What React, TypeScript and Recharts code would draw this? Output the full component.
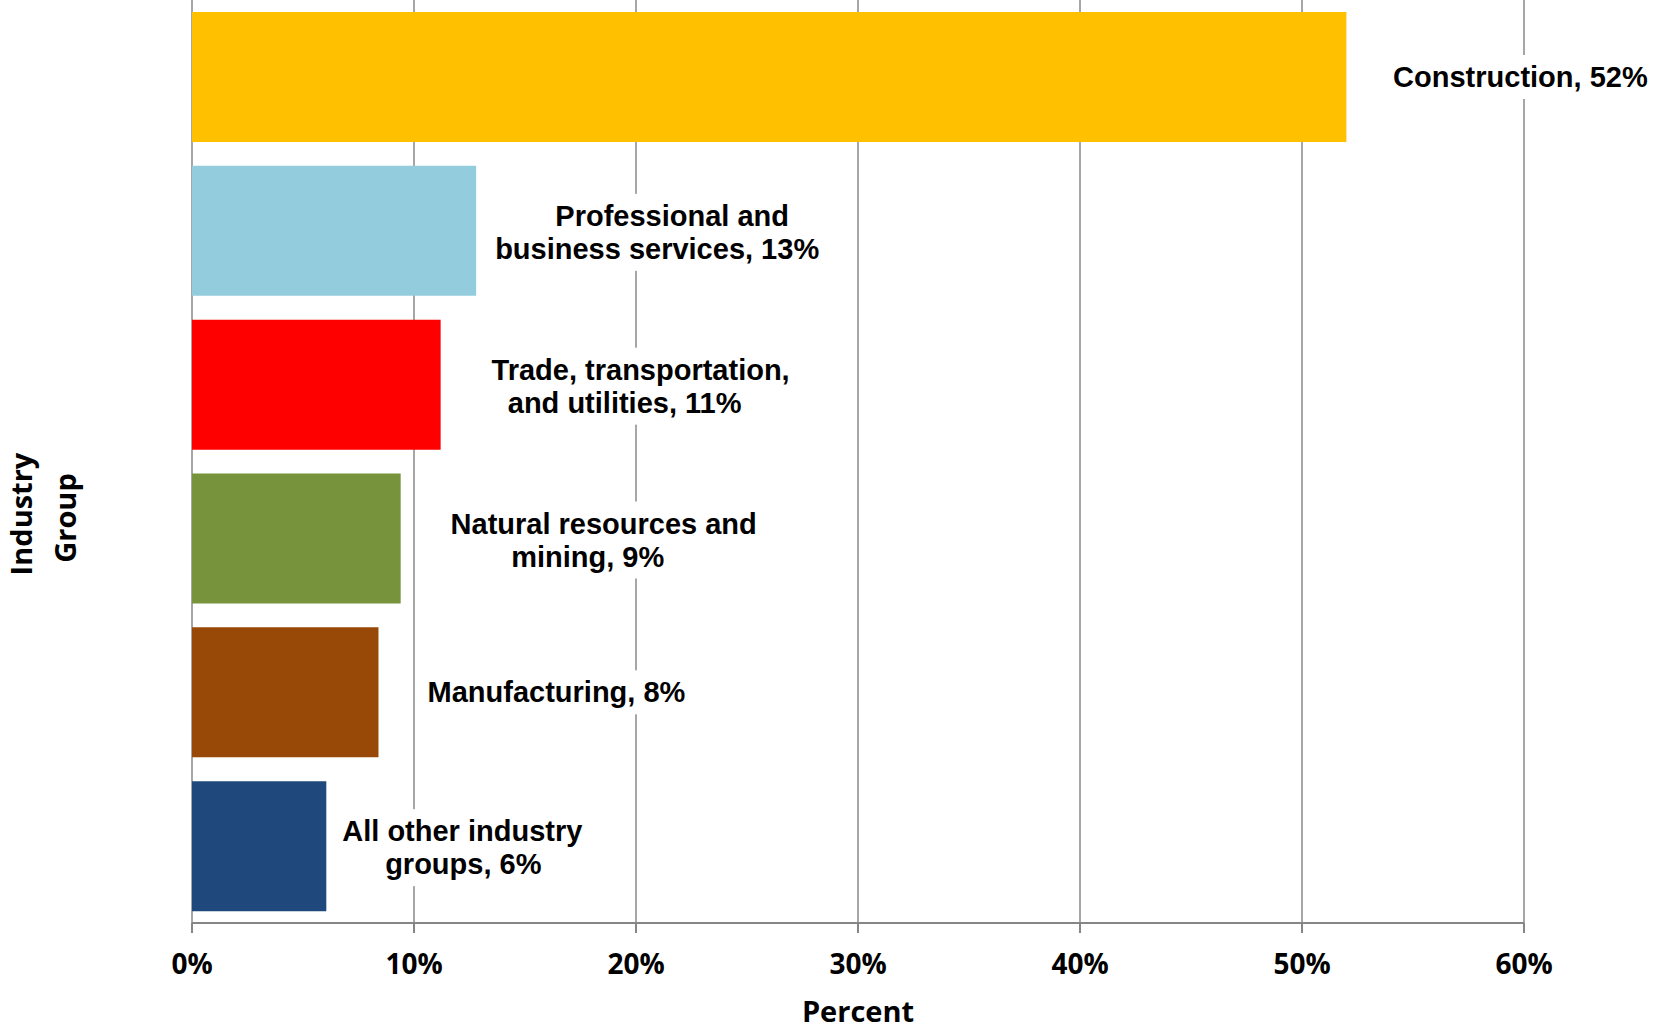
import React from 'react';
import { BarChart, Bar, XAxis, YAxis, CartesianGrid, Cell, LabelList } from 'recharts';

const categories = [
  'Construction',
  'Professional and business services',
  'Trade, transportation, and utilities',
  'Natural resources and mining',
  'Manufacturing',
  'All other industry groups',
];
const shares = [52.0, 12.8, 11.2, 9.4, 8.4, 6.05];
const barColors = ['#FFC000', '#93CDDD', '#FF0000', '#77933C', '#984807', '#1F497D'];
const xTicks = [0, 10, 20, 30, 40, 50, 60];

// how each data label is broken into lines (value is appended to the last line)
const labelLines = [
  ['Construction'],
  ['Professional and', 'business services'],
  ['Trade, transportation,', 'and utilities'],
  ['Natural resources and', 'mining'],
  ['Manufacturing'],
  ['All other industry', 'groups'],
];
// line centres, measured from the bar end
const labelDx = [[174], [196, 181], [200, 184], [203, 187], [178], [136, 137]];

const data = categories.map((name, i) => ({ name, value: shares[i] }));

const LABEL_FONT = "bold 29px 'Liberation Sans'";
const AXIS_FONT = "'Open Sans', sans-serif";

let ctx: CanvasRenderingContext2D | null = null;
function textWidth(s: string) {
  if (!ctx) ctx = document.createElement('canvas').getContext('2d');
  if (!ctx) return s.length * 16;
  ctx.font = LABEL_FONT;
  return ctx.measureText(s).width;
}

function BarLabel(props: any) {
  const { x, y, width, height, value } = props;
  const i = props.index ?? categories.indexOf(value);
  if (i < 0) return null;
  const lines = labelLines[i].slice();
  lines[lines.length - 1] += `, ${Math.round(shares[i])}%`;
  const end = x + width;
  const cy = y + height / 2;
  const offsets = lines.length === 1 ? [0] : [-15, 18];
  let left = Infinity;
  let right = -Infinity;
  lines.forEach((ln, k) => {
    const w = textWidth(ln);
    const c = end + labelDx[i][k];
    left = Math.min(left, c - w / 2);
    right = Math.max(right, c + w / 2);
  });
  const top = cy + offsets[0] - 22;
  const bottom = cy + offsets[offsets.length - 1] + 22;
  return (
    <g>
      <rect x={left - 6} y={top} width={right - left + 12} height={bottom - top} fill="#fff" />
      {lines.map((ln, k) => (
        <text
          key={k}
          x={end + labelDx[i][k]}
          y={cy + offsets[k]}
          textAnchor="middle"
          dominantBaseline="central"
          style={{ font: LABEL_FONT }}
          fill="#000"
        >
          {ln}
        </text>
      ))}
    </g>
  );
}

const titleStyle = { fontFamily: AXIS_FONT, fontWeight: 700, fontSize: 29 } as const;

// axis titles: "Percent" under the x axis, "Industry Group" rotated at the left edge
function AxisTitles(props: any) {
  const vb = props.viewBox || { x: 192, y: 923, width: 1332 };
  return (
    <g>
      <text x={vb.x + vb.width / 2} y={vb.y + 99} textAnchor="middle" style={titleStyle} fill="#000">
        Percent
      </text>
      <text x={32} y={514} transform="rotate(-90 32 514)" textAnchor="middle" style={titleStyle} fill="#000">
        Industry
      </text>
      <text x={76} y={518} transform="rotate(-90 76 518)" textAnchor="middle" style={titleStyle} fill="#000">
        Group
      </text>
    </g>
  );
}

export default function App() {
  return (
    <div style={{ position: 'absolute', left: 0, top: 0, width: 1655, height: 1030, background: '#fff' }}>
      <BarChart
        width={1655}
        height={1030}
        data={data}
        layout="vertical"
        margin={{ top: 0, right: 131, bottom: 0, left: 192 }}
      >
        <CartesianGrid horizontal={false} stroke="#A6A6A6" strokeWidth={2} />
        <XAxis
          type="number"
          domain={[0, 60]}
          ticks={xTicks}
          tickFormatter={(v) => `${v}%`}
          interval={0}
          height={107}
          tickSize={10}
          tickMargin={21}
          axisLine={{ stroke: '#868686', strokeWidth: 2 }}
          tickLine={{ stroke: '#868686', strokeWidth: 2 }}
          tick={{ fill: '#000', fontFamily: AXIS_FONT, fontWeight: 700, fontSize: 28 }}
          label={<AxisTitles />}
        />
        <YAxis
          type="category"
          dataKey="name"
          width={0}
          tick={false}
          tickLine={false}
          axisLine={{ stroke: '#868686', strokeWidth: 2 }}
        />
        <Bar dataKey="value" barSize={130} isAnimationActive={false}>
          {data.map((d, i) => (
            <Cell key={d.name} fill={barColors[i]} />
          ))}
          <LabelList dataKey="name" content={<BarLabel />} />
        </Bar>
      </BarChart>
    </div>
  );
}
